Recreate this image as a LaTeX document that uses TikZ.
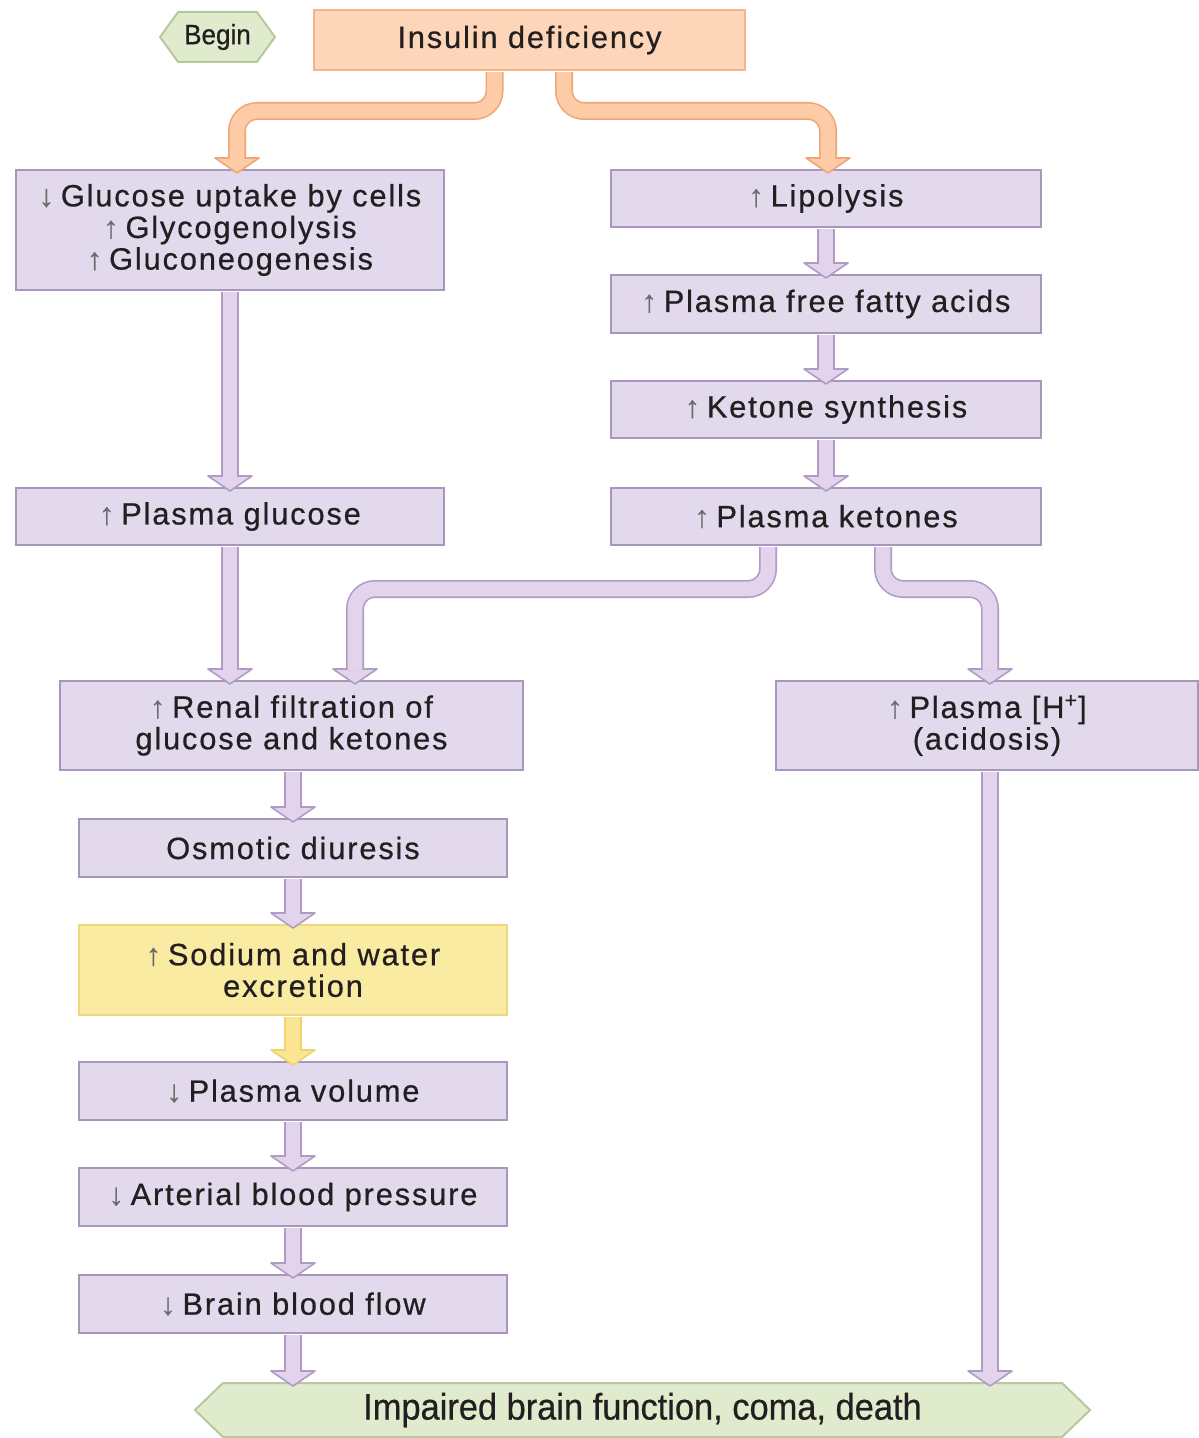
\documentclass[tikz,border=0pt]{standalone}
\usepackage{fontspec}
\setmainfont{Liberation Sans}
\newfontfamily\boxfont[LetterSpace=6,FakeBold=0.6]{Liberation Sans}
\newfontfamily\hexfont[FakeStretch=0.93,FakeBold=0.6]{Liberation Sans}
\usetikzlibrary{calc,shapes.symbols}
\definecolor{txt}{HTML}{231F20}
\definecolor{arrgray}{HTML}{6A6A6A}
\definecolor{purfill}{HTML}{E2D9EC}
\definecolor{purline}{HTML}{A897BD}
\definecolor{purafill}{HTML}{E3D3EC}
\definecolor{puraline}{HTML}{AE9CC2}
\definecolor{orfill}{HTML}{FDD6BA}
\definecolor{orline}{HTML}{F1B48E}
\definecolor{orafill}{HTML}{FDCBA6}
\definecolor{oraline}{HTML}{F0A777}
\definecolor{yefill}{HTML}{FAEBA3}
\definecolor{yeline}{HTML}{EFD77E}
\definecolor{yeafill}{HTML}{FCE592}
\definecolor{yealine}{HTML}{F0D36A}
\definecolor{grfill}{HTML}{E0EACC}
\definecolor{grline}{HTML}{B7C89C}
\newcommand\up{\textcolor{arrgray}{↑}\hspace{0.22em}}
\newcommand\dn{\textcolor{arrgray}{↓}\hspace{0.22em}}
\tikzset{
  sz/.style 2 args={minimum width=#1*0.5pt, minimum height=#2*0.5pt},
  pbox/.style={rectangle, draw=purline, fill=purfill, line width=1pt, align=center,
    text=txt, inner sep=0pt, font=\boxfont\fontsize{15.4}{15.8}\selectfont},
  obox/.style={pbox, draw=orline, fill=orfill},
  ybox/.style={pbox, draw=yeline, fill=yefill},
  hexn/.style={signal, signal to=west and east, draw=grline, fill=grfill, line width=1pt,
    text=txt, inner sep=0pt},
  shaft/.style={line width=0.8pt, double distance=7.4pt, rounded corners=10pt, shorten <=0.6pt},
}
% arrowhead: colour prefix, tip coordinate
\newcommand\headat[2]{%
  \filldraw[fill=#1afill, draw=#1aline, line width=0.8pt, line join=round]
    ($(#2)+(-11pt,7.5pt)$) -- (#2) -- ($(#2)+(11pt,7.5pt)$) -- cycle;}
% straight fat arrow: colour prefix, start, tip
\newcommand\fatline[3]{%
  \headat{#1}{#3}%
  \draw[shaft, draw=#1aline, double=#1afill] (#2) -- ($(#3)+(0,7pt)$);}
\begin{document}
\begin{tikzpicture}[x=0.5pt, y=-0.5pt]
\fill[white] (0,0) rectangle (1198,1438);
\useasboundingbox (0,0) rectangle (1198,1438);

% nodes
\node[hexn, sz={115}{50}, signal pointer angle=108, font=\hexfont\fontsize{14}{15}\selectfont] (begin) at (217.5,37) {Begin};
\node[obox, sz={431}{60}] (ins) at (529.5,40) {Insulin deficiency};
\node[pbox, sz={428}{120}] (glu) at (230,230) {\dn Glucose uptake by cells\\\up Glycogenolysis\\\up Gluconeogenesis};
\node[pbox, sz={430}{57}] (lip) at (826,198.5) {\up Lipolysis};
\node[pbox, sz={430}{58}] (ffa) at (826,304) {\up Plasma free fatty acids};
\node[pbox, sz={430}{57}] (ket) at (826,409.5) {\up Ketone synthesis};
\node[pbox, sz={430}{57}] (pket) at (826,516.5) {\up Plasma ketones};
\node[pbox, sz={428}{57}] (pglu) at (230,516.5) {\up Plasma glucose};
\node[pbox, sz={463}{89}] (ren) at (291.5,725.5) {\up Renal filtration of\\glucose and ketones};
\node[pbox, sz={422}{89}] (hplus) at (987,725.5) {\up Plasma [H\textsuperscript{+}]\\(acidosis)};
\node[pbox, sz={428}{58}] (osm) at (293,848) {Osmotic diuresis};
\node[ybox, sz={428}{90}] (sod) at (293,970) {\up Sodium and water\\excretion};
\node[pbox, sz={428}{58}] (vol) at (293,1091) {\dn Plasma volume};
\node[pbox, sz={428}{58}] (abp) at (293,1197) {\dn Arterial blood pressure};
\node[pbox, sz={428}{58}] (bbf) at (293,1304) {\dn Brain blood flow};
\node[hexn, sz={895}{54}, signal pointer angle=88, font=\hexfont\fontsize{18.5}{20}\selectfont] (fin) at (642.5,1410) {Impaired brain function, coma, death};

% tip coordinates
\coordinate (t1) at ($(glu.north)+(7,4)$);
\coordinate (t2) at ($(lip.north)+(2,4)$);
\coordinate (t3) at ($(ffa.north)+(0,4)$);
\coordinate (t4) at ($(ket.north)+(0,4)$);
\coordinate (t5) at ($(pket.north)+(0,4)$);
\coordinate (t6) at ($(pglu.north)+(0,4)$);
\coordinate (t7) at ($(ren.north)+(-61.5,4)$);
\coordinate (t8) at ($(ren.north)+(63.5,4)$);
\coordinate (t9) at ($(hplus.north)+(3,4)$);
\coordinate (t10) at ($(osm.north)+(0,4)$);
\coordinate (t11) at ($(sod.north)+(0,4)$);
\coordinate (t12) at ($(vol.north)+(0,4)$);
\coordinate (t13) at ($(abp.north)+(0,4)$);
\coordinate (t14) at ($(bbf.north)+(0,4)$);
\coordinate (t15) at ($(fin.north)+(-349.5,4)$);
\coordinate (t16) at ($(fin.north)+(347.5,4)$);

% start coordinates
\coordinate (s1) at ($(ins.south)+(-35,0)$);
\coordinate (s2) at ($(ins.south)+(34.5,0)$);
\coordinate (s8) at ($(pket.south)+(-58,0)$);
\coordinate (s9) at ($(pket.south)+(57,0)$);
\coordinate (s10) at ($(ren.south)+(1.5,0)$);
\coordinate (s16) at ($(hplus.south)+(3,0)$);

% bent orange arrows
\headat{or}{t1}
\draw[shaft, draw=oraline, double=orafill] (s1) |- ($(t1)+(0,-62)$) -- ($(t1)+(0,7pt)$);
\headat{or}{t2}
\draw[shaft, draw=oraline, double=orafill] (s2) |- ($(t2)+(0,-62)$) -- ($(t2)+(0,7pt)$);

% straight arrows
\fatline{pur}{lip.south}{t3}
\fatline{pur}{ffa.south}{t4}
\fatline{pur}{ket.south}{t5}
\fatline{pur}{glu.south}{t6}
\fatline{pur}{pglu.south}{t7}

% bent purple arrows from plasma ketones
\headat{pur}{t8}
\draw[shaft, draw=puraline, double=purafill] (s8) |- ($(t8)+(0,-95)$) -- ($(t8)+(0,7pt)$);
\headat{pur}{t9}
\draw[shaft, draw=puraline, double=purafill] (s9) |- ($(t9)+(0,-95)$) -- ($(t9)+(0,7pt)$);

\fatline{pur}{s10}{t10}
\fatline{pur}{osm.south}{t11}
\fatline{ye}{sod.south}{t12}
\fatline{pur}{vol.south}{t13}
\fatline{pur}{abp.south}{t14}
\fatline{pur}{bbf.south}{t15}
\fatline{pur}{s16}{t16}
\end{tikzpicture}
\end{document}
